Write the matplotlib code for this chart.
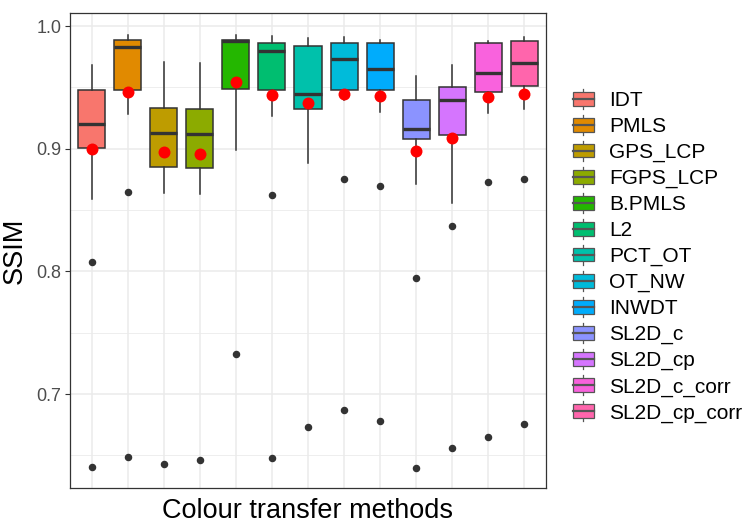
import numpy as np
import matplotlib
matplotlib.use("Agg")
import matplotlib.pyplot as plt
from matplotlib.legend_handler import HandlerBase
from matplotlib.patches import Rectangle, Patch
from matplotlib.lines import Line2D

plt.rcParams['font.family'] = ['Liberation Sans', 'DejaVu Sans']

methods = ['IDT', 'PMLS', 'GPS_LCP', 'FGPS_LCP', 'B.PMLS', 'L2', 'PCT_OT',
           'OT_NW', 'INWDT', 'SL2D_c', 'SL2D_cp', 'SL2D_c_corr', 'SL2D_cp_corr']
colors = ['#F8766D', '#E18A00', '#BE9C00', '#8CAB00', '#24B700', '#00BE70', '#00C1AB',
          '#00BBDA', '#00ACFC', '#8B93FF', '#D575FE', '#F962DD', '#FF65AC']

# box statistics
whis_hi = [0.968, 0.993, 0.971, 0.970, 0.993, 0.992, 0.990, 0.991, 0.989, 0.959, 0.968, 0.988, 0.991]
q3 = [0.948, 0.989, 0.933, 0.932, 0.989, 0.986, 0.984, 0.986, 0.986, 0.940, 0.950, 0.986, 0.988]
median = [0.920, 0.983, 0.913, 0.912, 0.988, 0.980, 0.945, 0.973, 0.965, 0.916, 0.940, 0.962, 0.970]
q1 = [0.901, 0.948, 0.885, 0.884, 0.949, 0.948, 0.932, 0.948, 0.948, 0.908, 0.911, 0.946, 0.951]
whis_lo = [0.859, 0.928, 0.864, 0.863, 0.899, 0.927, 0.888, 0.940, 0.930, 0.871, 0.856, 0.929, 0.932]
means = [0.900, 0.946, 0.897, 0.896, 0.954, 0.944, 0.937, 0.945, 0.943, 0.898, 0.909, 0.942, 0.945]
outliers = [[0.808, 0.641], [0.865, 0.649], [0.643], [0.646], [0.733], [0.862, 0.648],
            [0.673], [0.875, 0.687], [0.870, 0.678], [0.795, 0.640], [0.837, 0.656],
            [0.873, 0.665], [0.875, 0.676]]

W, H = 747, 531
fig = plt.figure(figsize=(W / 100, H / 100), dpi=100)
ax = fig.add_axes([70 / W, 1 - 488 / H, 476 / W, (488 - 13.3) / H])

pos = np.arange(1, len(methods) + 1)
stats = []
for i in range(len(methods)):
    stats.append({'med': median[i], 'q1': q1[i], 'q3': q3[i],
                  'whislo': whis_lo[i], 'whishi': whis_hi[i],
                  'fliers': outliers[i], 'label': methods[i]})

edge = '#333333'
bp = ax.bxp(stats, positions=pos, widths=0.75, patch_artist=True, showcaps=False,
            boxprops=dict(edgecolor=edge, linewidth=1.1),
            whiskerprops=dict(color=edge, linewidth=1.1),
            medianprops=dict(color=edge, linewidth=2.4, solid_capstyle='butt'),
            flierprops=dict(marker='o', markersize=4.4, markerfacecolor=edge,
                            markeredgecolor=edge, linestyle='none'),
            zorder=3)
for patch, c in zip(bp['boxes'], colors):
    patch.set_facecolor(c)

ax.plot(pos, means, 'o', color='red', markersize=8.6, markeredgewidth=0, zorder=5)

ax.set_xlim(0.4, len(methods) + 0.6)
ax.set_ylim(0.6235, 1.0104)
ax.set_yticks([0.7, 0.8, 0.9, 1.0])
ax.set_yticks([0.65, 0.75, 0.85, 0.95], minor=True)
ax.set_yticklabels(['0.7', '0.8', '0.9', '1.0'])
ax.set_xticks(pos)
ax.set_xticklabels([])
ax.tick_params(axis='x', which='both', length=0)
ax.tick_params(axis='y', which='major', length=3.7, width=0.8, color=edge,
               labelsize=13, labelcolor='#4D4D4D', pad=2.5)
ax.tick_params(axis='y', which='minor', length=0)
ax.grid(True, which='major', color='#EBEBEB', linewidth=1.1, zorder=0)
ax.grid(True, which='minor', axis='y', color='#EBEBEB', linewidth=0.6, zorder=0)
ax.set_axisbelow(True)
for s in ax.spines.values():
    s.set_color(edge)
    s.set_linewidth(0.9)

ax.set_xlabel('Colour transfer methods', fontsize=19.5, labelpad=4)
ax.set_ylabel('SSIM', fontsize=19.5, labelpad=6)


class BoxKey(HandlerBase):
    def create_artists(self, legend, orig_handle, xdescent, ydescent, width, height,
                       fontsize, trans):
        x0, y0 = -xdescent, -ydescent
        cx = x0 + width / 2
        stub = 0.25 * height
        wl = Line2D([cx, cx], [y0 - stub, y0 + height + stub], color='#555555',
                    linewidth=0.9, transform=trans)
        r = Rectangle((x0, y0), width, height, facecolor=orig_handle.get_facecolor(),
                      edgecolor='#555555', linewidth=0.9, transform=trans)
        m = Line2D([x0, x0 + width], [y0 + height / 2] * 2, color='#555555',
                   linewidth=1.6, transform=trans)
        return [wl, r, m]


handles = [Patch(facecolor=c) for c in colors]
fig.legend(handles, methods, handler_map={Patch: BoxKey()}, loc='center left',
           bbox_to_anchor=(573 / W, 1 - 257 / H), frameon=False, fontsize=15,
           handlelength=1.0, handleheight=0.62, handletextpad=0.72,
           labelspacing=0.33, borderpad=0, borderaxespad=0)

fig.savefig('out.png', dpi=100)
